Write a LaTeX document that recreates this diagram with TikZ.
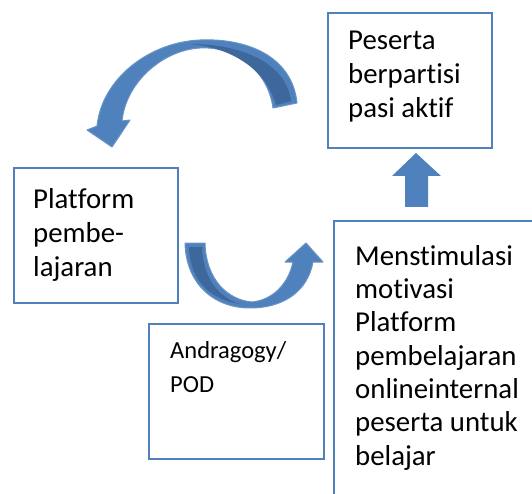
\documentclass[tikz,border=0pt]{standalone}
\usepackage{fontspec}
\setmainfont{Carlito}[Ligatures=NoCommon]
\definecolor{boxblue}{RGB}{79,129,189}
\definecolor{arrowblue}{RGB}{79,129,189}
\definecolor{arrowdark}{RGB}{62,104,156}
\begin{document}
\begin{tikzpicture}[x=1pt,y=-1pt,
  box/.style={draw=boxblue, line width=1.7pt, inner sep=0pt, anchor=north west},
  txt/.style={anchor=base west, align=left, inner sep=0pt, font=\fontsize{28.8}{34}\selectfont},
  smalltxt/.style={anchor=base west, align=left, inner sep=0pt, font=\fontsize{24.5}{34}\selectfont},
  ribbon/.style={fill=arrowblue, draw=arrowblue!85!white, line width=1pt, line join=round},
  ribbondark/.style={fill=arrowdark}]
\clip (0,0) rectangle (532,494);
\fill[white] (0,0) rectangle (532,494);

% boxes
\node[box, minimum width=164pt, minimum height=135pt] (peserta) at (327,12) {};
\node[box, minimum width=164pt, minimum height=135pt] (platform) at (13,167) {};
\node[box, minimum width=175pt, minimum height=135pt] (andra) at (148,323) {};
\node[box, minimum width=230pt, minimum height=300pt] (stim) at (333,220) {};

% texts (anchor = baseline of the last line)
\node[txt] (tpeserta) at (348,118) {Peserta\\berpartisi\\pasi aktif};
\node[txt] (tplatform) at (33,276) {Platform\\pembe-\\lajaran};
\node[smalltxt] (tandra) at (170,392) {Andragogy/\\POD};
\node[txt, font=\fontsize{28.8}{33.3}\selectfont] (tstim) at (355,465) {Menstimulasi\\motivasi\\Platform\\pembelajaran\\onlineinternal\\peserta untuk\\belajar};

% up arrow
\fill[arrowblue] (416,153) -- (441,176) -- (428,176) -- (428,207) -- (405,207) -- (405,176) -- (392,176) -- cycle;

% top curved arrow
\filldraw[ribbon] (297,103) .. controls (292,55) and (245,38) .. (200,40)
  .. controls (150,42) and (102,78) .. (97,126) -- (87,130) -- (112,147) -- (130,120) -- (122,121)
  .. controls (126,82) and (163,50) .. (200,48)
  .. controls (238,46) and (268,72) .. (273,108) -- cycle;
\fill[ribbondark] (291,101) .. controls (286,62) and (240,44) .. (190,44)
  .. controls (235,48) and (267,72) .. (276,105) -- cycle;

% bottom curved arrow
\filldraw[ribbon] (185,243) .. controls (186,285) and (215,308) .. (250,308)
  .. controls (285,308) and (308,290) .. (313,262) -- (323,262) -- (306,243) -- (285,262) -- (293,262)
  .. controls (288,285) and (272,300) .. (252,302)
  .. controls (228,300) and (206,280) .. (205,243) -- cycle;
\fill[ribbondark] (189,247) -- (202,247) .. controls (203,280) and (220,298) .. (240,304)
  .. controls (212,300) and (190,282) .. (189,247) -- cycle;
\end{tikzpicture}
\end{document}
